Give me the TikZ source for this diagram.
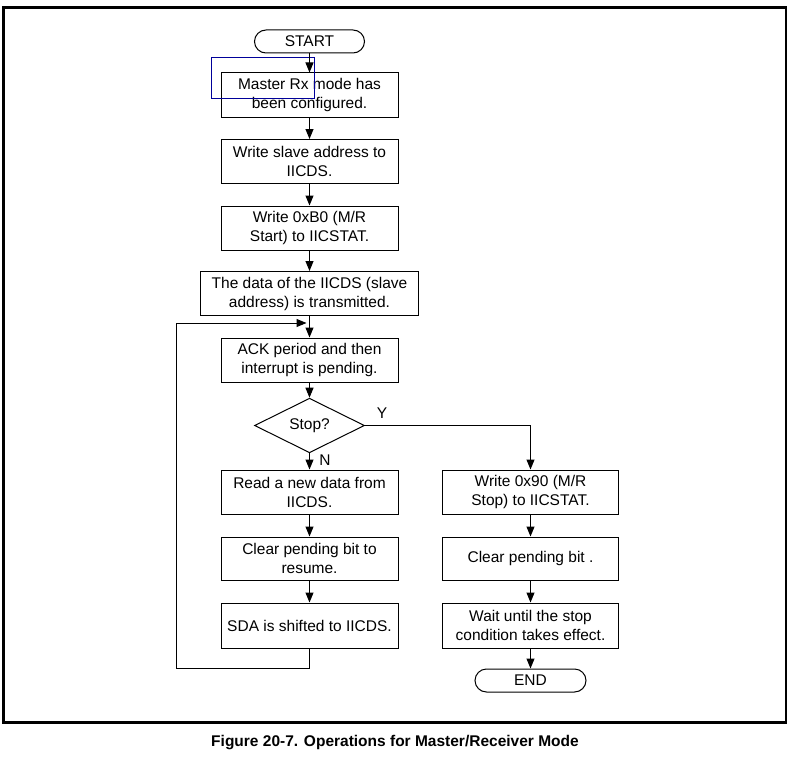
\documentclass[tikz,border=0pt]{standalone}
\usepackage{fontspec}
\setmainfont{Liberation Sans}
\usetikzlibrary{arrows.meta,shapes.geometric}
\begin{document}
\begin{tikzpicture}[x=1pt,y=-1pt,
  every node/.style={font=\fontsize{15.5}{19}\selectfont},
  proc/.style={draw,line width=1pt,rectangle,align=center,minimum width=177pt,minimum height=44pt,inner sep=2pt},
  term/.style={draw,line width=1pt,rectangle,rounded corners=11.5pt,minimum width=110pt,minimum height=23pt,inner sep=0pt},
  dec/.style={draw,line width=1pt,diamond,minimum width=110pt,minimum height=43pt,inner sep=0pt},
  arr/.style={line width=1pt,-{Triangle[length=10pt,width=8pt]}},
  ln/.style={line width=1pt},
  lbl/.style={inner sep=0pt}]
\useasboundingbox (0,0) rectangle (790,760);
\draw[line width=2.2pt] (3.5,7.5) rectangle (786,722.5);

\node[term] (start) at (309.5,41.5) {START};
\node[proc] (b1) at (309.5,95) {Master Rx mode has\\been configured.};
\node[proc] (b2) at (309.5,161.5) {Write slave address to\\IICDS.};
\node[proc] (b3) at (309.5,228) {Write 0xB0 (M/R\\Start) to IICSTAT.};
\node[proc,minimum width=218pt] (b4) at (309.5,293.5) {The data of the IICDS (slave\\address) is transmitted.};
\node[proc] (b5) at (309.5,360) {ACK period and then\\interrupt is pending.};
\node[dec] (d) at (309.5,425.5) {Stop?};
\node[proc] (r1) at (309.5,492) {Read a new data from\\IICDS.};
\node[proc,minimum height=43pt] (r2) at (309.5,558.5) {Clear pending bit to\\resume.};
\node[proc,minimum height=45pt] (r3) at (309.5,625.5) {SDA is shifted to IICDS.};
\node[proc,minimum width=176pt] (s1) at (530.5,492) {Write 0x90 (M/R\\Stop) to IICSTAT.};
\node[proc,minimum width=176pt,minimum height=43pt] (s2) at (530.5,558.5) {Clear pending bit .};
\node[proc,minimum width=176pt,minimum height=45pt] (s3) at (530.5,625.5) {Wait until the stop\\condition takes effect.};
\node[term,minimum width=111pt] (end) at (530.5,680.5) {END};

\node[lbl] (ly) at (382,413) {Y};
\node[lbl] (lnn) at (325,460) {N};

\draw[blue!60!black,line width=0.8pt] (211.5,57.5) rectangle (314.5,98.5);

\draw[arr] (start) -- (b1);
\draw[arr] (b1) -- (b2);
\draw[arr] (b2) -- (b3);
\draw[arr] (b3) -- (b4);
\draw[arr] (b4) -- (b5);
\draw[arr] (b5) -- (d);
\draw[arr] (d) -- (r1);
\draw[arr] (r1) -- (r2);
\draw[arr] (r2) -- (r3);
\draw[arr] (d.east) -| (s1.north);
\draw[arr] (s1) -- (s2);
\draw[arr] (s2) -- (s3);
\draw[arr] (s3) -- (end);

\coordinate (lp) at (176.5,668);
\coordinate (lt) at (176.5,323);
\draw[arr] (r3.south) |- (lp) -- (lt) -- ([xshift=-3pt]b4.south |- lt);

\node[font=\fontsize{15.5}{19}\bfseries\selectfont] (cap) at (395,743) {Figure 20-7. Operations for Master/Receiver Mode};
\end{tikzpicture}
\end{document}
